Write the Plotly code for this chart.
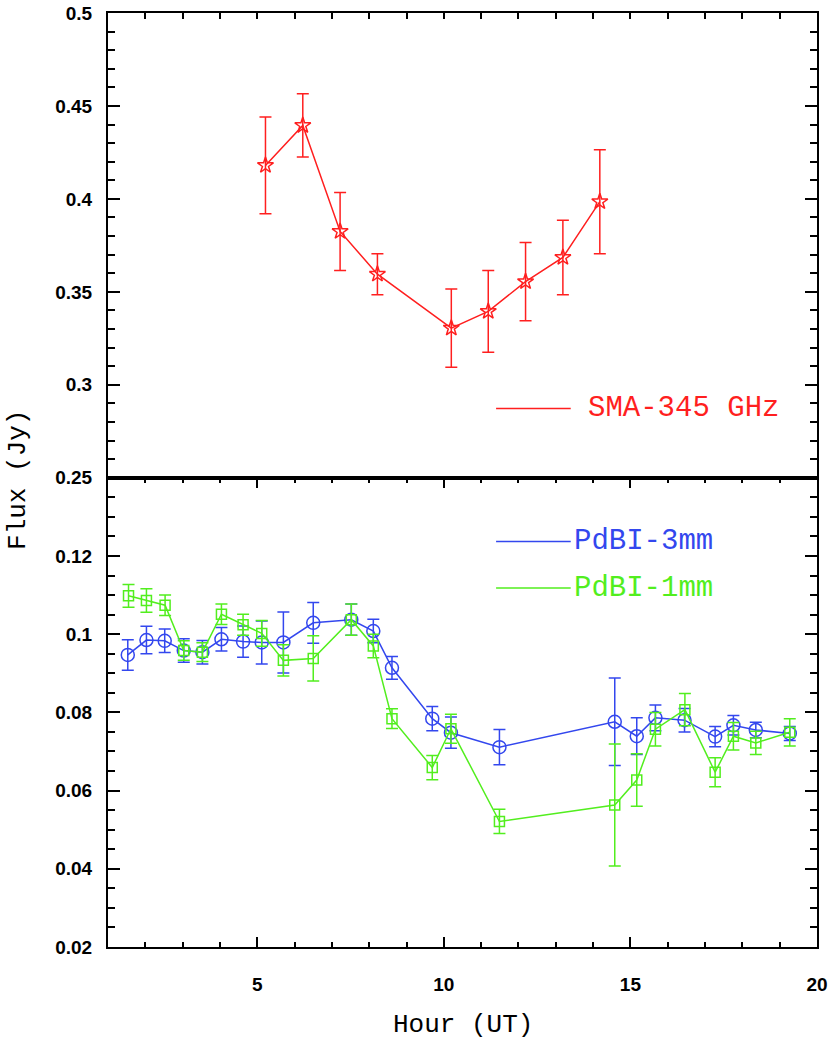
import plotly.graph_objects as go
from plotly.subplots import make_subplots

# SMA 345 GHz (top panel)
sma_hour = [5.22, 6.22, 7.22, 8.22, 10.2, 11.19, 12.19, 13.19, 14.18]
sma_flux = [0.418, 0.4395, 0.3825, 0.3595, 0.3305, 0.3395, 0.3555, 0.3685, 0.3985]
sma_err = [0.026, 0.017, 0.021, 0.011, 0.021, 0.022, 0.021, 0.020, 0.028]

# PdBI 3mm (bottom panel, circles)
pdbi3_hour = [1.53, 2.03, 2.52, 3.03, 3.53, 4.04, 4.62, 5.12, 5.70, 6.50, 7.52, 8.11,
              8.61, 9.69, 10.19, 11.49, 14.58, 15.17, 15.67, 16.45, 17.27, 17.76, 18.36, 19.27]
pdbi3_flux = [0.0947, 0.0985, 0.0983, 0.0958, 0.0954, 0.0987, 0.0981, 0.0979, 0.0979, 0.1029,
              0.1037, 0.1008, 0.0914, 0.0784, 0.0748, 0.0711, 0.0776, 0.0739, 0.0786, 0.0780,
              0.0738, 0.0767, 0.0755, 0.0746]
pdbi3_err = [0.0039, 0.0035, 0.0030, 0.0030, 0.0030, 0.0030, 0.0040, 0.0055, 0.0078, 0.0052,
             0.0040, 0.0030, 0.0029, 0.0031, 0.0040, 0.0045, 0.0112, 0.0047, 0.0033, 0.0030,
             0.0026, 0.0025, 0.0020, 0.0018]

# PdBI 1mm (bottom panel, squares)
pdbi1_hour = [1.55, 2.03, 2.53, 3.03, 3.53, 4.04, 4.62, 5.12, 5.70, 6.50, 7.52, 8.11,
              8.61, 9.69, 10.19, 11.49, 14.58, 15.17, 15.67, 16.46, 17.27, 17.76, 18.36, 19.27]
pdbi1_flux = [0.1098, 0.1086, 0.1074, 0.0958, 0.0954, 0.1051, 0.1024, 0.1002, 0.0933, 0.0938,
              0.1037, 0.0970, 0.0784, 0.0659, 0.0758, 0.0521, 0.0563, 0.0627, 0.0757, 0.0807,
              0.0647, 0.0739, 0.0722, 0.0749]
pdbi1_err = [0.0029, 0.0030, 0.0026, 0.0025, 0.0024, 0.0026, 0.0027, 0.0033, 0.0040, 0.0058,
             0.0040, 0.0030, 0.0025, 0.0031, 0.0037, 0.0031, 0.0156, 0.0067, 0.0043, 0.0041,
             0.0037, 0.0035, 0.0030, 0.0035]

top_ticks = [0.25, 0.3, 0.35, 0.4, 0.45, 0.5]
top_ticktext = ["0.25", "0.3", "0.35", "0.4", "0.45", "0.5"]
bottom_ticks = [0.02, 0.04, 0.06, 0.08, 0.1, 0.12]
bottom_ticktext = ["0.02", "0.04", "0.06", "0.08", "0.1", "0.12"]
hour_ticks = [5, 10, 15, 20]

RED = "#ff1f1f"
BLUE = "#3347ee"
GREEN = "#52ee1e"
MONO = "Liberation Mono, Courier New, monospace"
TICKFONT = dict(family="Liberation Sans, Arial", size=19, color="black", weight="bold")

fig = make_subplots(rows=2, cols=1, shared_xaxes=True, vertical_spacing=0)


def series(x, y, err, color, symbol, size, cap):
    return go.Scatter(
        x=x, y=y, mode="lines+markers",
        line=dict(color=color, width=1.5),
        marker=dict(symbol=symbol, size=size, color=color, line=dict(width=1.5)),
        error_y=dict(type="data", array=err, color=color, thickness=1.5, width=cap),
        showlegend=False,
    )


fig.add_trace(series(sma_hour, sma_flux, sma_err, RED, "star-open", 12, 6), row=1, col=1)
fig.add_trace(series(pdbi3_hour, pdbi3_flux, pdbi3_err, BLUE, "circle-open", 13, 6), row=2, col=1)
fig.add_trace(series(pdbi1_hour, pdbi1_flux, pdbi1_err, GREEN, "square-open", 10, 6), row=2, col=1)

axis_common = dict(showline=True, linecolor="black", linewidth=2, showgrid=False,
                   zeroline=False, ticks="inside", tickcolor="black", tickwidth=2,
                   ticklabeloverflow="allow")

split = 0.5024
fig.update_layout(
    width=831, height=1040,
    margin=dict(l=108, r=14, t=3, b=93),
    plot_bgcolor="white", paper_bgcolor="white",
    xaxis=dict(axis_common, range=[1, 20], side="top", mirror=True, showticklabels=False,
               tickvals=list(range(1, 21)), ticklen=6, anchor="y"),
    xaxis2=dict(axis_common, range=[1, 20], mirror="ticks", tickvals=hour_ticks, ticklen=10,
                tickfont=TICKFONT, ticklabelstandoff=19,
                minor=dict(dtick=1, ticks="inside", ticklen=5, tickcolor="black", tickwidth=2)),
    yaxis=dict(axis_common, range=[0.25, 0.5], domain=[split, 1], mirror="ticks",
               tickvals=top_ticks, ticktext=top_ticktext, ticklen=12, tickfont=TICKFONT,
               ticklabelstandoff=10,
               minor=dict(dtick=0.01, tick0=0.25, ticks="inside", ticklen=7,
                          tickcolor="black", tickwidth=2)),
    yaxis2=dict(axis_common, range=[0.02, 0.14], domain=[0, split], mirror="ticks",
                tickvals=bottom_ticks, ticktext=bottom_ticktext, ticklen=12, tickfont=TICKFONT,
                ticklabelstandoff=10,
                minor=dict(dtick=0.005, tick0=0.02, ticks="inside", ticklen=7,
                           tickcolor="black", tickwidth=2)),
)

# legend drawn by hand in the style of the original
legend_items = [
    ("x", "y", 0.2872, 13.8, "SMA-345 GHz", RED),
    ("x2", "y2", 0.1237, 13.43, "PdBI-3mm", BLUE),
    ("x2", "y2", 0.1118, 13.43, "PdBI-1mm", GREEN),
]
for xr, yr, yy, tx, label, color in legend_items:
    fig.add_shape(type="line", xref=xr, yref=yr, x0=11.4, x1=13.4, y0=yy, y1=yy,
                  line=dict(color=color, width=1.5))
    fig.add_annotation(xref=xr, yref=yr, x=tx, y=yy, text=label, showarrow=False,
                       xanchor="left", yanchor="middle",
                       font=dict(family=MONO, size=29, color=color))

fig.add_annotation(xref="paper", yref="paper", x=-0.127, y=0.5, text="Flux (Jy)",
                   textangle=-90, showarrow=False, xanchor="center", yanchor="middle",
                   font=dict(family=MONO, size=26, color="black"))
fig.add_annotation(xref="paper", yref="paper", x=0.5, y=-0.084, text="Hour (UT)",
                   showarrow=False, xanchor="center", yanchor="middle",
                   font=dict(family=MONO, size=26, color="black"))

# the page's default body margin would shift the figure; drop it
fig.write_html("out.html", config={"displayModeBar": False},
               post_script="document.body.style.margin = '0';")
